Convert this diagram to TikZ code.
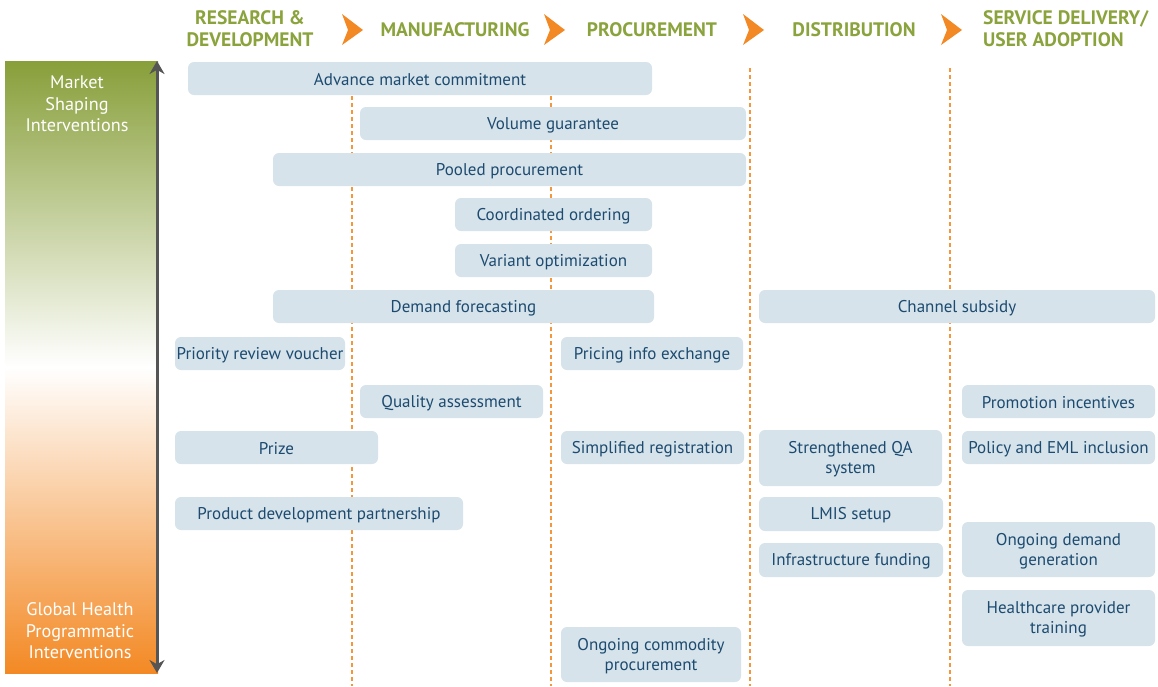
\documentclass[tikz,border=0pt]{standalone}
\usepackage{fontspec}
\setmainfont{PT Sans}
\usetikzlibrary{arrows.meta}
\definecolor{hdrgreen}{RGB}{138,163,60}
\definecolor{topgreen}{RGB}{136,159,58}
\definecolor{botorange}{RGB}{243,137,36}
\definecolor{chev}{RGB}{243,137,36}
\definecolor{dashor}{RGB}{244,150,60}
\definecolor{boxfill}{RGB}{214,227,234}
\definecolor{boxtext}{RGB}{28,74,112}
\definecolor{arrgray}{RGB}{85,85,85}
\tikzset{
  boxbg/.style={rounded corners=6pt, fill=boxfill},
  box/.style={text=boxtext, inner sep=0pt, align=center,
    font=\fontsize{17}{20}\selectfont},
  hdr/.style={text=hdrgreen, font=\fontsize{19.5}{22}\selectfont\bfseries, align=center, inner sep=0pt},
  side/.style={text=white, font=\fontsize{18.2}{21.5}\selectfont, align=center, inner sep=0pt},
  phase/.style={dashor, line width=2pt, dash pattern=on 4pt off 3pt},
  chevron/.style={fill=chev}
}
\newcommand\bx[6]{\path[boxbg] (#2,#3) rectangle (#4,#5);
  \node[box] (#1) at ({(#2+#4)/2},{(#3+#5)/2+1.5}) {#6};}
\newcommand\chev[1]{\fill[chevron] (#1,14) -- (#1+21,30) -- (#1,45) -- (#1+6,30) -- cycle;}
\begin{document}
\begin{tikzpicture}[x=1pt,y=-1pt]
\useasboundingbox (0,0) rectangle (1158,686);
% headers
\node[hdr] (h1) at (250,28.5) {RESEARCH \&\\DEVELOPMENT};
\node[hdr] (h2) at (455,30) {MANUFACTURING};
\node[hdr] (h3) at (652,30) {PROCUREMENT};
\node[hdr] (h4) at (854,30) {DISTRIBUTION};
\node[hdr, align=left, anchor=west] (h5) at (983,28.5) {SERVICE DELIVERY/\\USER ADOPTION};
\chev{342}
\chev{544}
\chev{743}
\chev{941}
% left gradient bar
\shade[top color=topgreen, bottom color=botorange, middle color=white] (5,61) rectangle (158,673);
\node[side] (ms) at (77,104) {Market\\Shaping\\Interventions};
\node[side] (gh) at (80,631) {Global Health\\Programmatic\\Interventions};
\coordinate (atop) at (157,61);
\coordinate (abot) at (157,673);
\draw[arrgray, line width=3pt, {Stealth[length=13pt,width=15pt]}-{Stealth[length=13pt,width=15pt]}] (atop) -- (abot);
% dashed phase lines
\coordinate (d1t) at (352,68); \coordinate (d1b) at (352,686);
\coordinate (d2t) at (551,68); \coordinate (d2b) at (551,686);
\coordinate (d3t) at (750,68); \coordinate (d3b) at (750,686);
\coordinate (d4t) at (950,68); \coordinate (d4b) at (950,686);
\draw[phase] (d1t) -- (d1b);
\draw[phase] (d2t) -- (d2b);
\draw[phase] (d3t) -- (d3b);
\draw[phase] (d4t) -- (d4b);
% boxes
\bx{b1}{188}{62}{652}{95}{Advance market commitment}
\bx{b2}{360}{107}{746}{140}{Volume guarantee}
\bx{b3}{273}{153}{746}{186}{Pooled procurement}
\bx{b4}{455}{198}{652}{231}{Coordinated ordering}
\bx{b5}{455}{244}{652}{277}{Variant optimization}
\bx{b6}{273}{290}{654}{323}{Demand forecasting}
\bx{b7}{759}{290}{1155}{323}{Channel subsidy}
\bx{b8}{175}{337}{345}{370}{Priority review voucher}
\bx{b9}{561}{337}{743}{370}{Pricing info exchange}
\bx{b10}{360}{385}{543}{418}{Quality assessment}
\bx{b11}{962}{385}{1155}{418}{Promotion incentives}
\bx{b12}{175}{431}{378}{464}{Prize}
\bx{b13}{561}{431}{744}{464}{Simplified registration}
\bx{b14}{759}{430}{942}{486}{Strengthened QA\\system}
\bx{b15}{962}{431}{1155}{464}{Policy and EML inclusion}
\bx{b16}{175}{497}{463}{530}{Product development partnership}
\bx{b17}{759}{497}{943}{531}{LMIS setup}
\bx{b18}{759}{543}{943}{577}{Infrastructure funding}
\bx{b19}{962}{522}{1155}{577}{Ongoing demand\\generation}
\bx{b20}{962}{590}{1155}{646}{Healthcare provider\\training}
\bx{b21}{561}{627}{741}{682}{Ongoing commodity\\procurement}
\end{tikzpicture}
\end{document}
